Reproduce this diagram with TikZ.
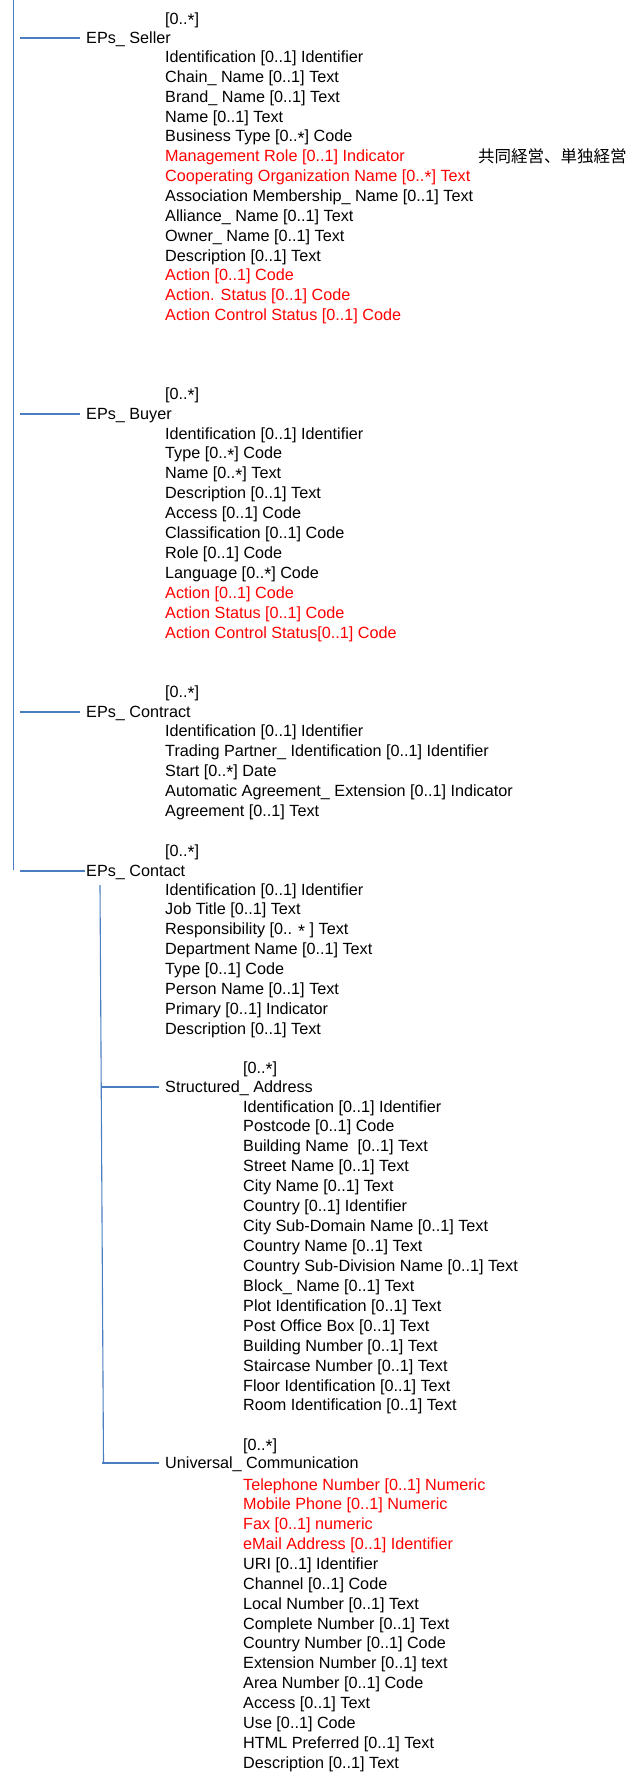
\documentclass[tikz,border=0pt]{standalone}
\usepackage{fontspec}
\setmainfont{Liberation Sans}
\newfontfamily\cjk{Noto Sans CJK JP}
\definecolor{linkblue}{HTML}{4A7EC0}
\definecolor{hotred}{HTML}{FF0000}
\newcommand{\mystar}{\raisebox{-0.28ex}{\fontsize{18}{20}\selectfont *}}
\begin{document}
\begin{tikzpicture}[x=1pt,y=-1pt,
  lbl/.style={anchor=west,inner sep=0pt,text height=10pt,text depth=0pt,font=\fontsize{16.2}{20}\selectfont},
  head/.style={lbl,inner xsep=6pt},
  conn/.style={draw=linkblue,line width=1.1pt}]
\useasboundingbox (0,0) rectangle (625,1772);

% ---------- EPs_ Seller ----------
\node[lbl] (sm) at (165,19) {[0..\mystar]};
\node[head] (seller) at (80,38) {EPs\_ Seller};
\foreach \c/\t [count=\i from 0] in {
  black/{Identification [0..1] Identifier},
  black/{Chain\_ Name [0..1] Text},
  black/{Brand\_ Name [0..1] Text},
  black/{Name [0..1] Text},
  black/{Business Type [0..\mystar] Code},
  hotred/{Management Role [0..1] Indicator},
  hotred/{Cooperating Organization Name [0..\mystar] Text},
  black/{Association Membership\_ Name [0..1] Text},
  black/{Alliance\_ Name [0..1] Text},
  black/{Owner\_ Name [0..1] Text},
  black/{Description [0..1] Text},
  hotred/{Action [0..1] Code},
  hotred/{Action. Status [0..1] Code},
  hotred/{Action Control Status [0..1] Code}}
  \node[lbl,text=\c] (s\i) at (165,{57.5+19.85*\i}) {\t};
\node[lbl,font=\cjk\fontsize{16.5}{20}\selectfont] (jp) at (478,157) {共同経営、単独経営};

% ---------- EPs_ Buyer ----------
\node[lbl] (bm) at (165,394) {[0..\mystar]};
\node[head] (buyer) at (80,414) {EPs\_ Buyer};
\foreach \c/\t [count=\i from 0] in {
  black/{Identification [0..1] Identifier},
  black/{Type [0..\mystar] Code},
  black/{Name [0..\mystar] Text},
  black/{Description [0..1] Text},
  black/{Access [0..1] Code},
  black/{Classification [0..1] Code},
  black/{Role [0..1] Code},
  black/{Language [0..\mystar] Code},
  hotred/{Action [0..1] Code},
  hotred/{Action Status [0..1] Code},
  hotred/{Action Control Status[0..1] Code}}
  \node[lbl,text=\c] (b\i) at (165,{434+19.9*\i}) {\t};

% ---------- EPs_ Contract ----------
\node[lbl] (km) at (165,692) {[0..\mystar]};
\node[head] (contract) at (80,712) {EPs\_ Contract};
\foreach \t [count=\i from 0] in {
  {Identification [0..1] Identifier},
  {Trading Partner\_ Identification [0..1] Identifier},
  {Start [0..\mystar] Date},
  {Automatic Agreement\_ Extension [0..1] Indicator},
  {Agreement [0..1] Text}}
  \node[lbl] (k\i) at (165,{731.5+19.9*\i}) {\t};

% ---------- EPs_ Contact ----------
\node[lbl] (cm) at (165,851) {[0..\mystar]};
\node[lbl,inner xsep=1pt] (contact) at (85,871) {EPs\_ Contact};
\foreach \t [count=\i from 0] in {
  {Identification [0..1] Identifier},
  {Job Title [0..1] Text},
  {Responsibility [0.. \mystar\ ] Text},
  {Department Name [0..1] Text},
  {Type [0..1] Code},
  {Person Name [0..1] Text},
  {Primary [0..1] Indicator},
  {Description [0..1] Text}}
  \node[lbl] (c\i) at (165,{890+19.9*\i}) {\t};

% ---------- Structured_ Address ----------
\node[lbl] (am) at (243,1068) {[0..\mystar]};
\node[head] (address) at (159,1087) {Structured\_ Address};
\foreach \t [count=\i from 0] in {
  {Identification [0..1] Identifier},
  {Postcode [0..1] Code},
  {Building Name\ \ [0..1] Text},
  {Street Name [0..1] Text},
  {City Name [0..1] Text},
  {Country [0..1] Identifier},
  {City Sub-Domain Name [0..1] Text},
  {Country Name [0..1] Text},
  {Country Sub-Division Name [0..1] Text},
  {Block\_ Name [0..1] Text},
  {Plot Identification [0..1] Text},
  {Post Office Box [0..1] Text},
  {Building Number [0..1] Text},
  {Staircase Number [0..1] Text},
  {Floor Identification [0..1] Text},
  {Room Identification [0..1] Text}}
  \node[lbl] (a\i) at (243,{1107+19.93*\i}) {\t};

% ---------- Universal_ Communication ----------
\node[lbl] (um) at (243,1445) {[0..\mystar]};
\node[head] (comm) at (159,1463) {Universal\_ Communication};
\foreach \c/\t [count=\i from 0] in {
  hotred/{Telephone Number [0..1] Numeric},
  hotred/{Mobile Phone [0..1] Numeric},
  hotred/{Fax [0..1] numeric},
  hotred/{eMail Address [0..1] Identifier},
  black/{URI [0..1] Identifier},
  black/{Channel [0..1] Code},
  black/{Local Number [0..1] Text},
  black/{Complete Number [0..1] Text},
  black/{Country Number [0..1] Code},
  black/{Extension Number [0..1] text},
  black/{Area Number [0..1] Code},
  black/{Access [0..1] Text},
  black/{Use [0..1] Code},
  black/{HTML Preferred [0..1] Text},
  black/{Description [0..1] Text}}
  \node[lbl,text=\c] (u\i) at (243,{1485+19.86*\i}) {\t};

% ---------- connectors ----------
\coordinate (trunkTop) at (13.5,0);
\coordinate (trunkBot) at (13.5,870);
\draw[conn] (trunkTop) -- (trunkBot);
\coordinate (j1) at (20,38);
\coordinate (j2) at (20,414);
\coordinate (j3) at (20,712);
\coordinate (j4) at (20,871);
\draw[conn] (j1) -- (seller.west);
\draw[conn] (j2) -- (buyer.west);
\draw[conn] (j3) -- (contract.west);
\draw[conn] (j4) -- (contact.west);

\coordinate (subTop) at (100,885);
\coordinate (subBot) at (103.5,1462);
\draw[conn] (subTop) -- (subBot);
\coordinate (q1) at (102,1087);
\coordinate (q2) at (102,1463);
\draw[conn] (q1) -- (address.west);
\draw[conn] (q2) -- (comm.west);
\end{tikzpicture}
\end{document}
